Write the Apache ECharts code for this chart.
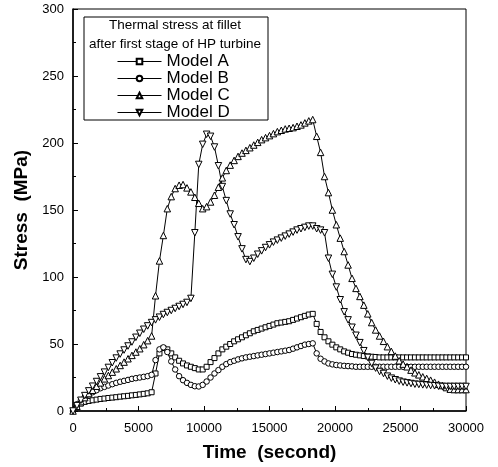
<!DOCTYPE html>
<html>
<head>
<meta charset="utf-8">
<script src="https://cdn.jsdelivr.net/npm/echarts@6/dist/echarts.min.js"></script>
<style>
  html, body { margin: 0; padding: 0; background: #fff; }
  #chart { width: 498px; height: 467px; }
</style>
</head>
<body>
<div id="chart"></div>
<script>
// time in seconds
var times = [
  0, 300, 600, 900, 1200, 1500, 1800, 2100, 2400, 2700,
  3000, 3300, 3600, 3900, 4200, 4500, 4800, 5100, 5400, 5700,
  6000, 6300, 6600, 6900, 7200, 7500, 7800, 8100, 8400, 8700,
  9000, 9300, 9600, 9900, 10200, 10500, 10800, 11100, 11400, 11700,
  12000, 12300, 12600, 12900, 13200, 13500, 13800, 14100, 14400, 14700,
  15000, 15300, 15600, 15900, 16200, 16500, 16800, 17100, 17400, 17700,
  18000, 18300, 18600, 18900, 19200, 19500, 19800, 20100, 20400, 20700,
  21000, 21300, 21600, 21900, 22200, 22500, 22800, 23100, 23400, 23700,
  24000, 24300, 24600, 24900, 25200, 25500, 25800, 26100, 26400, 26700,
  27000, 27300, 27600, 27900, 28200, 28500, 28800, 29100, 29400, 29700,
  30000
];

// stress in MPa
var modelA = [
  0, 3.5, 5.5, 6.8, 7.5, 8, 8.5, 9, 9.3, 9.7,
  10, 10.3, 10.7, 11, 11.3, 11.7, 12, 12.4, 12.8, 13.2,
  14, 28, 43, 47, 46, 43, 40, 37.5, 35.5, 34,
  33, 32, 31, 31, 33, 36.5, 39.5, 43, 46, 48,
  50, 52, 53.5, 55, 56.5, 58, 59.5, 60.5, 61.5, 62.5,
  63.5, 64.5, 65.5, 66, 66.5, 67, 68, 69, 70, 71,
  72, 72.5, 65, 59, 55, 52, 49.5, 47.5, 46, 44.5,
  43.5, 42.5, 42, 41.5, 41, 40.7, 40.5, 40.3, 40, 40,
  40, 40, 40, 40, 40, 40, 40, 40, 40, 40,
  40, 40, 40, 40, 40, 40, 40, 40, 40, 40,
  40
];
var modelB = [
  0, 5, 8, 10.5, 12.5, 14, 15.5, 17, 18, 19,
  20, 21, 21.8, 22.5, 23.2, 24, 24.5, 25, 25.5, 26,
  27, 38, 46, 47.5, 44, 37, 31, 26, 23, 21,
  19.5, 18.5, 18.3, 19.5, 22, 25, 28, 30.5, 33, 35,
  36.5, 37.5, 38.5, 39.3, 40, 40.5, 41, 41.5, 42, 42.5,
  43, 43.5, 44, 44.5, 45, 45.5, 46.5, 47.5, 48.5, 49.5,
  50, 50.5, 43, 39, 37, 35.5, 34.8, 34.3, 34, 33.7,
  33.5, 33.3, 33, 33, 33, 33, 33, 33, 33, 33,
  33, 33, 33, 33, 33, 33, 33, 33, 33, 33,
  33, 33, 33, 33, 33, 33, 33, 33, 33, 33,
  33
];
var modelC = [
  0, 3.5, 7, 10, 13, 15.5, 18.5, 21, 24, 26.5,
  29, 31.5, 34, 36.5, 39, 41.5, 44, 46.5, 49.5, 52.5,
  56, 86, 112, 131, 151, 160, 166, 168.5, 169, 166.5,
  163.5, 159.5, 155, 151, 152.5, 156, 161, 167, 174, 179.5,
  183.5, 187, 190, 192.5, 194.5, 196.5, 198.5, 200.5, 202.5, 204,
  205.5, 207, 208.5, 209.5, 210.5, 211, 211.5, 212.5, 213.5, 215,
  216.5, 217.5, 205, 193, 175, 163, 150, 139, 129, 119,
  109, 99, 91.5, 85.5, 79, 72.5, 66, 60.5, 56, 52,
  48, 44.5, 41, 37.5, 35, 33, 30.5, 28.5, 27, 25.5,
  24.3, 23, 21.5, 20, 19, 17.5, 16.3, 16, 16, 16,
  16
];
var modelD = [
  0, 4, 8, 11.5, 15, 18.5, 22, 25.5, 29, 32.5,
  36, 39.5, 42.5, 45.5, 48.5, 51.5, 55, 58, 61, 63.5,
  66, 68, 70, 72, 73.5, 75, 76.5, 78, 79.5, 81,
  84, 133, 184, 199, 206.5, 205, 197, 183, 167.5, 157,
  147, 139, 130, 121, 113, 111.5, 114, 117, 119.5, 122,
  124, 126, 127.5, 129, 130.5, 132, 133.5, 135, 136, 137,
  138, 138, 136, 135, 133, 114, 102, 92.5, 83, 74,
  68, 62.5, 56.5, 51, 45, 40, 35.5, 32, 29.5, 28,
  26, 24.5, 23.3, 22.3, 21.5, 21, 20.5, 20, 19.8, 19.5,
  19.3, 19, 18.8, 18.5, 18.3, 18.3, 18.3, 18.3, 18.3, 18.3,
  18.3
];

var seriesNames = ['Model A', 'Model B', 'Model C', 'Model D'];
var seriesValues = [modelA, modelB, modelC, modelD];
var seriesSymbols = ['rect', 'circle', 'triangle', 'triangle'];
var seriesRotate = [0, 0, 0, 180];
var seriesSizes = [5, 5.5, 6.5, 6.5];

var chart = echarts.init(document.getElementById('chart'), null, { renderer: 'canvas' });
var ink = '#000', font = '"Liberation Sans", Arial, sans-serif';

var series = seriesNames.map(function(name, k) {
  return {
    name: name,
    type: 'line',
    data: times.map(function(t, i) { return [t, seriesValues[k][i]]; }),
    symbol: seriesSymbols[k],
    symbolRotate: seriesRotate[k],
    symbolSize: seriesSizes[k],
    showAllSymbol: true,
    animation: false,
    lineStyle: { color: ink, width: 1 },
    itemStyle: { color: '#fff', borderColor: ink, borderWidth: 1 }
  };
});

chart.setOption({
  backgroundColor: '#fff',
  animation: false,
  grid: { left: 73, right: 32, top: 9, bottom: 54, show: true, borderColor: ink, borderWidth: 1 },
  xAxis: {
    type: 'value', min: 0, max: 30000, interval: 5000,
    name: 'Time  (second)', nameLocation: 'middle', nameGap: 32,
    nameTextStyle: { color: ink, fontSize: 19, fontWeight: 'bold', fontFamily: font },
    axisLine: { lineStyle: { color: ink, width: 1.5 } },
    axisTick: { inside: true, length: 5, lineStyle: { color: ink } },
    minorTick: { show: true, splitNumber: 2, length: 3, lineStyle: { color: ink } },
    axisLabel: { color: ink, fontSize: 13, fontFamily: font, margin: 11, formatter: function(v) { return String(v); } },
    splitLine: { show: false }
  },
  yAxis: {
    type: 'value', min: 0, max: 300, interval: 50,
    name: 'Stress  (MPa)', nameLocation: 'middle', nameGap: 35,
    nameTextStyle: { color: ink, fontSize: 19, fontWeight: 'bold', fontFamily: font },
    axisLine: { show: true, lineStyle: { color: ink, width: 1.5 } },
    axisTick: { inside: true, length: 5, lineStyle: { color: ink } },
    minorTick: { show: true, splitNumber: 2, length: 3, lineStyle: { color: ink } },
    axisLabel: { color: ink, fontSize: 13, fontFamily: font, margin: 9 },
    splitLine: { show: false }
  },
  legend: {
    data: seriesNames,
    orient: 'vertical',
    left: 112, top: 48,
    itemWidth: 44, itemHeight: 7, itemGap: 0,
    lineStyle: { width: 1 },
    textStyle: { color: ink, fontSize: 17, fontFamily: font, lineHeight: 17 }
  },
  graphic: [
    { type: 'rect', shape: { x: 84, y: 17, width: 184, height: 103 }, style: { fill: 'none', stroke: ink, lineWidth: 1 }, z: 10 },
    { type: 'text', x: 175, y: 25, style: { text: 'Thermal stress at fillet', fill: ink, font: '13.5px ' + font, textAlign: 'center', textVerticalAlign: 'middle' }, z: 10 },
    { type: 'text', x: 175, y: 44, style: { text: 'after first stage of HP turbine', fill: ink, font: '13.5px ' + font, textAlign: 'center', textVerticalAlign: 'middle' }, z: 10 }
  ],
  series: series
});
</script>
</body>
</html>
